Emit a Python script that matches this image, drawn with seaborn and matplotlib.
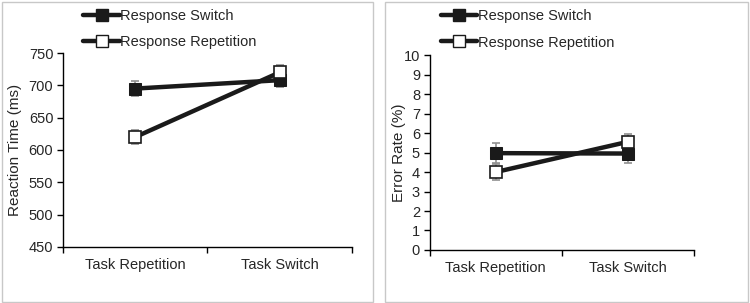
import matplotlib.pyplot as plt
import seaborn as sns
import pandas as pd
from matplotlib.lines import Line2D
from matplotlib.patches import Rectangle

tasks = ["Task Repetition", "Task Switch"]
rt_switch = [695, 708]
rt_repeat = [620, 720]
rt_switch_err = [11, 10]
rt_repeat_err = [11, 11]
er_switch = [4.97, 4.95]
er_repeat = [4.0, 5.55]
er_switch_err = [0.5, 0.5]
er_repeat_err = [0.4, 0.4]

sns.set_style("white")
plt.rcParams['font.family'] = ['Liberation Sans', 'DejaVu Sans']

fig = plt.figure(figsize=(7.5, 3.03), dpi=100)

# panel frames
for x0, w in [(0.002, 0.495), (0.513, 0.484)]:
    fig.patches.append(Rectangle((x0, 0.003), w, 0.992, transform=fig.transFigure,
                                 fill=False, edgecolor='#c8c8c8', lw=1.0))

ax1 = fig.add_axes([0.084, 0.185, 0.385, 0.64])
ax2 = fig.add_axes([0.573, 0.175, 0.352, 0.643])


def draw(ax, sw, rp, sw_err, rp_err, ylim, yticks, ylabel, labx, legpos):
    df = pd.DataFrame({
        "task": tasks * 2,
        "value": sw + rp,
        "cond": ["Response Switch"] * 2 + ["Response Repetition"] * 2,
    })
    df["x"] = [0, 1, 0, 1]
    for cond, err in [("Response Switch", sw_err), ("Response Repetition", rp_err)]:
        sub = df[df.cond == cond]
        ax.errorbar(sub.x, sub.value, yerr=err, fmt='none', ecolor='#909090',
                    elinewidth=1.2, capsize=3, capthick=1.2, zorder=1)
    sns.lineplot(data=df[df.cond == "Response Switch"], x="x", y="value", ax=ax,
                 color='#1a1a1a', lw=3.2, marker='s', markersize=9,
                 markerfacecolor='#1a1a1a', markeredgecolor='#1a1a1a', zorder=2)
    sns.lineplot(data=df[df.cond == "Response Repetition"], x="x", y="value", ax=ax,
                 color='#1a1a1a', lw=3.2, marker='s', markersize=9,
                 markerfacecolor='white', markeredgecolor='#1a1a1a',
                 markeredgewidth=1.2, zorder=3)
    ax.set_xlim(-0.5, 1.5)
    ax.set_ylim(*ylim)
    ax.set_yticks(yticks)
    ax.set_xticks([0, 1])
    ax.set_xticklabels(tasks, fontsize=10.5)
    ax.set_xticks([-0.5, 0.5, 1.5], minor=True)
    ax.tick_params(axis='x', which='major', length=0, pad=8)
    ax.tick_params(axis='x', which='minor', length=4, width=1, color='black',
                   direction='out', bottom=True)
    ax.tick_params(axis='y', length=4, width=1, color='black', direction='out',
                   left=True, labelsize=10.5, pad=3)
    ax.set_xlabel("")
    ax.set_ylabel(ylabel, fontsize=11)
    ax.yaxis.set_label_coords(labx, 0.5)
    for s in ['top', 'right']:
        ax.spines[s].set_visible(False)
    for s in ['left', 'bottom']:
        ax.spines[s].set_color('black')
        ax.spines[s].set_linewidth(1.0)
    handles = [
        Line2D([], [], color='#1a1a1a', lw=3.2, marker='s', markersize=8,
               markerfacecolor='#1a1a1a', markeredgecolor='#1a1a1a'),
        Line2D([], [], color='#1a1a1a', lw=3.2, marker='s', markersize=8,
               markerfacecolor='white', markeredgecolor='#1a1a1a'),
    ]
    ax.legend(handles, ["Response Switch", "Response Repetition"],
              loc='lower left', bbox_to_anchor=legpos, frameon=False,
              fontsize=10.5, handlelength=2.5, handletextpad=0.05,
              labelspacing=0.84, borderaxespad=0)


draw(ax1, rt_switch, rt_repeat, rt_switch_err, rt_repeat_err,
     (450, 750), range(450, 751, 50), "Reaction Time (ms)", -0.142, (0.05, 0.99))
draw(ax2, er_switch, er_repeat, er_switch_err, er_repeat_err,
     (0, 10), range(0, 11), "Error Rate (%)", -0.091, (0.02, 0.999))

fig.savefig("out.png", dpi=100)
